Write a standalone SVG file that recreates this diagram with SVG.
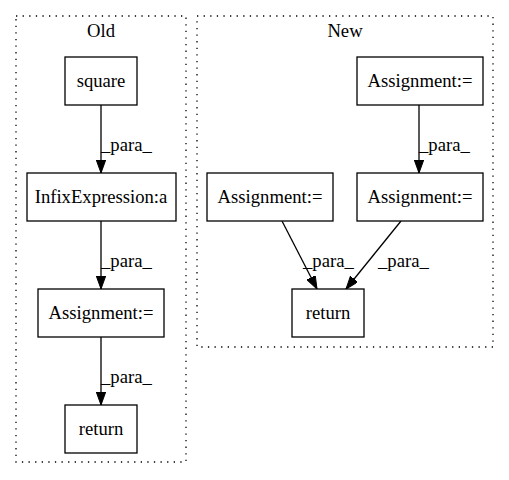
<svg xmlns="http://www.w3.org/2000/svg" width="509" height="480" viewBox="0 0 509 480">
<style>
.cl{fill:none;stroke:#000;stroke-dasharray:1.3,5.3;stroke-width:1.3}
.n rect{fill:#fff;stroke:#000;stroke-width:1.3}
text{font-family:"Liberation Serif","Times New Roman",serif;font-size:18.67px;fill:#000}
.c{text-anchor:middle}
.e{stroke:#000;stroke-width:1.3;fill:none;marker-end:url(#ah)}
</style>
<defs>
<marker id="ah" markerWidth="14" markerHeight="10" refX="13" refY="4.7" orient="auto" markerUnits="userSpaceOnUse">
<path d="M0,0 L13,4.7 L0,9.4 z" fill="#000" stroke="#000"/>
</marker>
</defs>
<rect x="0" y="0" width="509" height="480" fill="#fff"/>
<g id="cluster_old">
<rect class="cl" x="16" y="16" width="170" height="446"/>
<text class="c" x="101" y="37">Old</text>
</g>
<g id="cluster_new">
<rect class="cl" x="197" y="16" width="296" height="331"/>
<text class="c" x="345" y="37">New</text>
</g>
<g id="connectors">
<path class="e" d="M101,105 L101,173"/>
<text x="101" y="151">_para_</text>
<path class="e" d="M101,221 L101,289"/>
<text x="101" y="267">_para_</text>
<path class="e" d="M101,337 L101,405"/>
<text x="101" y="383">_para_</text>
<path class="e" d="M419,105 L419,173"/>
<text x="419" y="151">_para_</text>
<path class="e" d="M282,221 L317,289"/>
<text x="303" y="267">_para_</text>
<path class="e" d="M401,221 L346,289"/>
<text x="378" y="267">_para_</text>
</g>
<g id="old_square" class="n">
<rect x="65" y="57" width="72" height="48"/>
<text class="c" x="101" y="87">square</text>
</g>
<g id="old_infix" class="n">
<rect x="27" y="173" width="149" height="48"/>
<text class="c" x="101" y="203">InfixExpression:a</text>
</g>
<g id="old_assign" class="n">
<rect x="38" y="289" width="126" height="48"/>
<text class="c" x="101" y="319">Assignment:=</text>
</g>
<g id="old_return" class="n">
<rect x="65" y="405" width="72" height="48"/>
<text class="c" x="101" y="435">return</text>
</g>
<g id="new_assign_top" class="n">
<rect x="357" y="57" width="126" height="48"/>
<text class="c" x="420" y="87">Assignment:=</text>
</g>
<g id="new_assign_mid" class="n">
<rect x="357" y="173" width="126" height="48"/>
<text class="c" x="420" y="203">Assignment:=</text>
</g>
<g id="new_assign_left" class="n">
<rect x="207" y="173" width="126" height="48"/>
<text class="c" x="270" y="203">Assignment:=</text>
</g>
<g id="new_return" class="n">
<rect x="292" y="289" width="72" height="48"/>
<text class="c" x="328" y="319">return</text>
</g>
</svg>
